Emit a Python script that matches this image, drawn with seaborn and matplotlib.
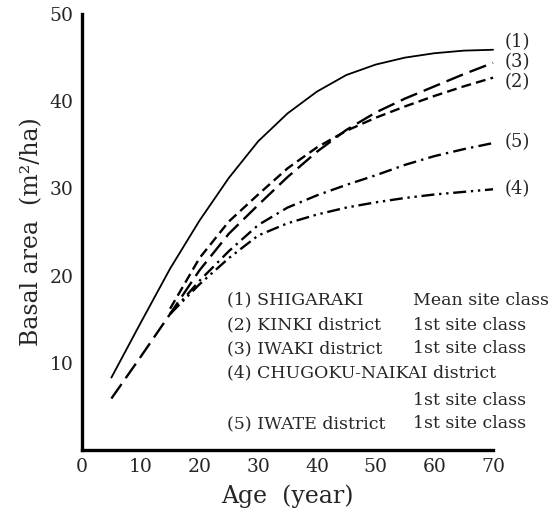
import pandas as pd
import seaborn as sns
import matplotlib.pyplot as plt

age = [5, 10, 15, 20, 25, 30, 35, 40, 45, 50, 55, 60, 65, 70]
age_late = [15, 20, 25, 30, 35, 40, 45, 50, 55, 60, 65, 70]

shigaraki = [8.3, 14.6, 20.8, 26.3, 31.2, 35.4, 38.6, 41.1, 43.0, 44.2, 45.0, 45.5, 45.8, 45.9]
iwaki = [5.9, 10.7, 15.6, 20.6, 24.8, 28.1, 31.3, 34.2, 36.7, 38.7, 40.3, 41.7, 43.1, 44.4]
kinki = [16.2, 22.0, 26.2, 29.3, 32.3, 34.7, 36.6, 38.1, 39.4, 40.6, 41.7, 42.7]
chugoku = [15.6, 19.0, 22.0, 24.6, 26.0, 27.0, 27.8, 28.4, 28.9, 29.3, 29.6, 29.9]
iwate = [15.6, 19.4, 22.8, 25.8, 27.8, 29.2, 30.4, 31.5, 32.7, 33.7, 34.5, 35.2]

legend_rows = [
    ("(1) SHIGARAKI", "Mean site class"),
    ("(2) KINKI district", "1st site class"),
    ("(3) IWAKI district", "1st site class"),
    ("(4) CHUGOKU-NAIKAI district", ""),
    ("", "1st site class"),
    ("(5) IWATE district", "1st site class"),
]

frames = [
    pd.DataFrame({"age": age, "ba": shigaraki, "curve": "(1)"}),
    pd.DataFrame({"age": age_late, "ba": kinki, "curve": "(2)"}),
    pd.DataFrame({"age": age, "ba": iwaki, "curve": "(3)"}),
    pd.DataFrame({"age": age_late, "ba": chugoku, "curve": "(4)"}),
    pd.DataFrame({"age": age_late, "ba": iwate, "curve": "(5)"}),
]
df = pd.concat(frames, ignore_index=True)

sns.set_style("white")
plt.rcParams["font.family"] = ["DejaVu Serif"]

fig = plt.figure(figsize=(5.52, 5.19), dpi=100)
ax = fig.add_axes([0.1486, 0.133, 0.7446, 0.840])

dash_map = {"(1)": "", "(2)": (4.2, 2.2), "(3)": (7.5, 3),
            "(4)": (5.5, 2, 1, 2, 1, 2), "(5)": (5.5, 2.2, 1, 2.2)}

sns.lineplot(data=df, x="age", y="ba", style="curve", dashes=dash_map, color="black",
             estimator=None, legend=False, ax=ax, linewidth=1.7)
for line in ax.lines:
    line.set_clip_on(False)
ax.lines[0].set_linewidth(1.3)

ax.set_xlim(0, 70)
ax.set_ylim(0, 50)
ax.set_xticks([0, 10, 20, 30, 40, 50, 60, 70])
ax.set_yticks([10, 20, 30, 40, 50])
ax.tick_params(direction="in", length=7, width=2, labelsize=13.5, pad=6)
ax.xaxis.get_major_ticks()[0].tick1line.set_visible(False)

for s in ["top", "right"]:
    ax.spines[s].set_visible(False)
for s in ["left", "bottom"]:
    ax.spines[s].set_linewidth(2.4)
    ax.spines[s].set_color("black")

label_y = {"(1)": 46.8, "(3)": 44.5, "(2)": 42.2, "(5)": 35.3, "(4)": 29.9}
for k, v in label_y.items():
    ax.text(72.0, v, k, ha="left", va="center", fontsize=13, clip_on=False)

rows_y = [17.2, 14.3, 11.6, 8.8, 5.7, 3.0]
for (left, right), yy in zip(legend_rows, rows_y):
    ax.text(24.7, yy, left, ha="left", va="center", fontsize=12.5)
    ax.text(56.4, yy, right, ha="left", va="center", fontsize=12.5)

ax.set_xlabel("Age  (year)", fontsize=17, labelpad=6)
ax.set_ylabel("Basal area  (m²/ha)", fontsize=17, labelpad=5)

fig.savefig("out.png", dpi=100)
